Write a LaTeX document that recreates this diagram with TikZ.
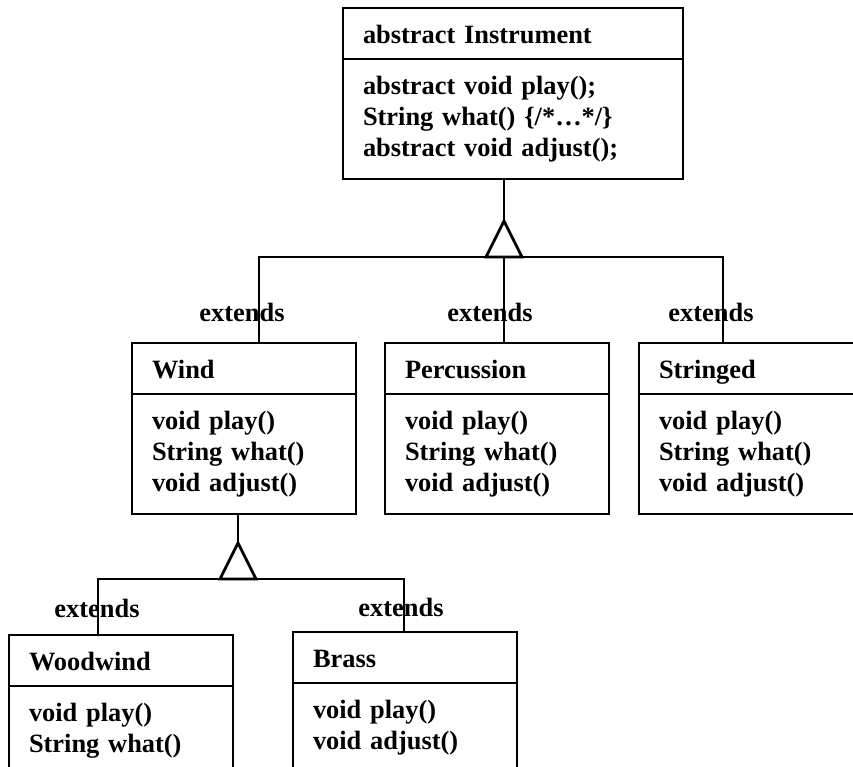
\documentclass[tikz,border=0pt]{standalone}
\usepackage{fontspec}
\setmainfont{Liberation Serif}
\usetikzlibrary{positioning}

\begin{document}
\begin{tikzpicture}[x=1pt, y=-1pt]
\tikzset{
    clshead/.style={rectangle, draw=black, line width=2pt, anchor=north west, outer sep=0pt,
        minimum width=224pt, text width=184pt, inner xsep=20pt, inner ysep=0pt,
        minimum height=51pt, text height=20pt, text depth=0pt, align=left,
        font=\bfseries\fontsize{26.4}{31}\selectfont},
    clsbody/.style={rectangle, draw=black, line width=2pt, outer sep=0pt,
        minimum width=224pt, text width=184pt, inner xsep=20pt, inner ysep=17pt, align=left,
        font=\bfseries\fontsize{26.4}{31}\selectfont},
    conn/.style={line width=2.8pt, line join=miter},
    extlbl/.style={anchor=base, inner sep=0pt, font=\bfseries\fontsize{26.4}{31}\selectfont}
}
\useasboundingbox (0,0) rectangle (853,766);
\clip (0,0) rectangle (853,766);

% base class
\node[clshead, minimum width=340pt, text width=300pt] (instr) at (343,8) {abstract Instrument};
\node[clsbody, minimum width=340pt, text width=300pt, below=0pt of instr] (instrbody)
    {abstract void play();\\String what() \{/*\dots*/\}\\abstract void adjust();};

% first level
\node[clshead] (wind) at (132,343) {Wind};
\node[clsbody, below=0pt of wind] (windbody) {void play()\\String what()\\void adjust()};
\node[clshead] (perc) at (385,343) {Percussion};
\node[clsbody, below=0pt of perc] (percbody) {void play()\\String what()\\void adjust()};
\node[clshead] (str) at (639,343) {Stringed};
\node[clsbody, below=0pt of str] (strbody) {void play()\\String what()\\void adjust()};

% second level
\node[clshead] (woodwind) at (9,635) {Woodwind};
\node[clsbody, below=0pt of woodwind] (woodwindbody) {void play()\\String what()};
\node[clshead] (brass) at (293,632) {Brass};
\node[clsbody, below=0pt of brass] (brassbody) {void play()\\void adjust()};

% inheritance from Instrument
\coordinate (apexA) at (504,221);
\coordinate (busA) at (504,257);
\coordinate (windin) at ([xshift=15pt]wind.north);
\coordinate (percin) at ([xshift=7pt]perc.north);
\coordinate (strin) at ([xshift=-28pt]str.north);
\draw[conn] (instrbody.south -| apexA) -- (apexA);
\draw[conn] (apexA) -- ++(-18,36) -- ++(36,0) -- cycle;
\draw[conn] (windin) |- (strin |- busA) -- (strin);
\draw[conn] (busA) -- (percin);

% inheritance from Wind
\coordinate (apexB) at ([xshift=-6pt]windbody.south |- 0,543);
\coordinate (busB) at (apexB |- 0,579);
\coordinate (wwin) at ([xshift=-23pt]woodwind.north);
\coordinate (brin) at ([xshift=-1pt]brass.north);
\draw[conn] (windbody.south -| apexB) -- (apexB);
\draw[conn] (apexB) -- ++(-18,36) -- ++(36,0) -- cycle;
\draw[conn] (wwin) |- (brin |- busB) -- (brin);

\node[extlbl] (extwind) at (242,321) {extends};
\node[extlbl] (extperc) at (490,321) {extends};
\node[extlbl] (extstr) at (711,321) {extends};
\node[extlbl] (extww) at (97,617) {extends};
\node[extlbl] (extbrass) at (401,616) {extends};
\end{tikzpicture}
\end{document}
